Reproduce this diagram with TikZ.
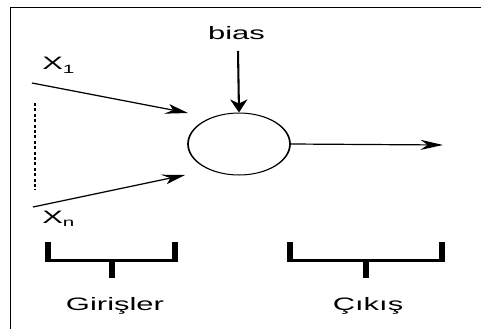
\documentclass[tikz,border=0pt]{standalone}
\usepackage{fontspec}
\setmainfont{Liberation Sans}
\usetikzlibrary{arrows.meta,shapes.geometric}
\begin{document}
\begin{tikzpicture}[x=1pt,y=-1pt,
  lbl/.style={font=\fontsize{18}{20}\selectfont, inner sep=0pt, anchor=base},
  link/.style={line width=1.2pt, -{Stealth[length=13pt,width=10pt,inset=4pt]}},
  brace/.style={line width=3pt},
  frame/.style={line width=1.6pt}]
\useasboundingbox (0,0) rectangle (481,329);
% outer frame (only top and left edges fall inside the page)
\draw[frame] (10.5,329) -- (10.5,7.5) -- (481,7.5);
% the whole diagram is stretched horizontally
\begin{scope}[transform canvas={xscale=1.72}, x=0.5814pt]
  % neuron
  \node[ellipse, draw, line width=1pt, minimum width=59.3pt, minimum height=62pt, inner sep=0pt] (neuron) at (239,144) {};
  % labels
  \node[lbl] (bias) at (236.5,40) {bias};
  \node[lbl, anchor=base west] (x1) at (42,70) {X\raisebox{-3.5pt}{\fontsize{12}{12}\selectfont 1}};
  \node[lbl, anchor=base west] (xn) at (42,223) {X\raisebox{-3.5pt}{\fontsize{12}{12}\selectfont n}};
  \node[lbl] (inputs) at (115,310) {Girişler};
  \node[lbl] (output) at (368,310) {Çıkış};
  % arrow end points
  \coordinate (biasS) at (238,51);
  \coordinate (x1S) at (32,83);
  \coordinate (x1E) at (188,113);
  \coordinate (xnS) at (33,207);
  \coordinate (xnE) at (185,175);
  \coordinate (outE) at (443,145);
  % connectors
  \draw[link] (biasS) -- (neuron.north);
  \draw[link] (x1S) -- (x1E);
  \draw[link] (xnS) -- (xnE);
  \draw[link] (neuron.east) -- (outE);
  % dotted placeholder for the remaining inputs
  \draw[line width=1.6pt, dash pattern=on 3pt off 2.4pt] (35,103) -- (35,190);
  % brackets
  \draw[brace] (48,242) -- (48,260) -- (175,260) -- (175,242);
  \draw[brace] (112,260) -- (112,278);
  \draw[brace] (290,242) -- (290,260) -- (442,260) -- (442,242);
  \draw[brace] (366,260) -- (366,278);
\end{scope}
\end{tikzpicture}
\end{document}
